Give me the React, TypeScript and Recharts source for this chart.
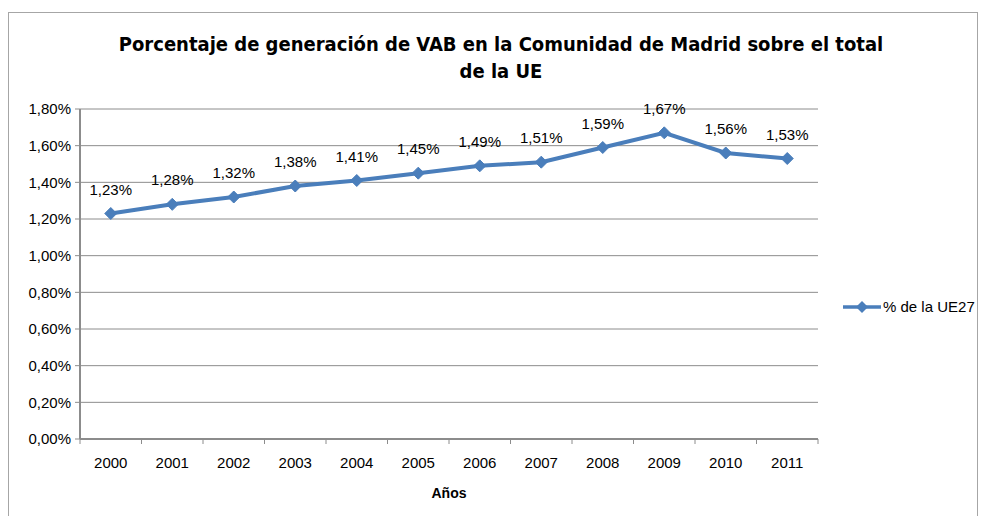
import type { ReactElement } from 'react'
import { LineChart, Line, XAxis, YAxis, CartesianGrid, LabelList } from 'recharts'

const years = ['2000', '2001', '2002', '2003', '2004', '2005', '2006', '2007', '2008', '2009', '2010', '2011']
const shareUE27 = [1.23, 1.28, 1.32, 1.38, 1.41, 1.45, 1.49, 1.51, 1.59, 1.67, 1.56, 1.53]
const yTicks = [0, 0.2, 0.4, 0.6, 0.8, 1.0, 1.2, 1.4, 1.6, 1.8]

const data = years.map((year, i) => ({ idx: i, year, value: shareUE27[i] }))
const yearTicks = years.map((_, i) => i)
const boundaryTicks = [...years.map((_, i) => i - 0.5), years.length - 0.5]

const BLUE = '#4a7ebb'
const GRID = '#8c8c8c'
const FONT = '"Liberation Sans", Arial, sans-serif'

const pct = (v: number) => `${v.toFixed(2).replace('.', ',')}%`

function Diamond(props: { cx?: number; cy?: number }): ReactElement | null {
  const { cx, cy } = props
  if (cx == null || cy == null) return null
  const r = 6
  return <path d={`M${cx},${cy - r}L${cx + r},${cy}L${cx},${cy + r}L${cx - r},${cy}Z`} fill={BLUE} stroke={BLUE} />
}

export default function App(): ReactElement {
  return (
    <div style={{ position: 'fixed', left: 0, top: 0, width: 981, height: 516, background: '#fff', overflow: 'hidden' }}>
      <div
        style={{
          position: 'absolute',
          left: 8,
          top: 12,
          width: 968,
          height: 540,
          border: '1px solid #a6a6a6',
        }}
      />
      <div
        style={{
          position: 'absolute',
          left: 0,
          top: 31,
          width: 1002,
          textAlign: 'center',
          fontFamily: '"Liberation Sans Narrow", "DejaVu Sans Condensed", Arial, sans-serif',
          fontWeight: 'bold',
          fontSize: 20,
          lineHeight: '27px',
          color: '#000',
        }}
      >
        Porcentaje de generación de VAB en la Comunidad de Madrid sobre el total
        <br />
        de la UE
      </div>
      <div
        style={{
          position: 'absolute',
          left: 843,
          top: 298,
          display: 'flex',
          alignItems: 'center',
          fontFamily: FONT,
          fontSize: 15,
          color: '#000',
        }}
      >
        <svg width={38} height={14}>
          <line x1={0} y1={7} x2={38} y2={7} stroke={BLUE} strokeWidth={3.5} />
          <path d="M19,1L25,7L19,13L13,7Z" fill={BLUE} />
        </svg>
        <span style={{ marginLeft: 2 }}>% de la UE27</span>
      </div>
      <LineChart
        width={981}
        height={516}
        data={data}
        margin={{ top: 109, right: 163, bottom: 11, left: 20 }}
        style={{ position: 'absolute', left: 0, top: 0 }}
      >
        <CartesianGrid vertical={false} stroke={GRID} strokeWidth={1} />
        <XAxis
          type="number"
          dataKey="idx"
          domain={[-0.5, years.length - 0.5]}
          ticks={boundaryTicks}
          tickFormatter={() => ''}
          height={6}
          axisLine={{ stroke: GRID, strokeWidth: 2 }}
          tickLine={{ stroke: GRID }}
          tickSize={5}
        />
        <XAxis
          xAxisId="years"
          type="number"
          dataKey="idx"
          domain={[-0.5, years.length - 0.5]}
          ticks={yearTicks}
          tickFormatter={(v) => years[v] ?? ''}
          interval={0}
          height={60}
          axisLine={false}
          tickLine={false}
          tickMargin={6}
          tick={{ fill: '#000', fontSize: 15, fontFamily: FONT }}
          label={{ value: 'Años', position: 'insideBottom', offset: 7, fill: '#000', fontSize: 14, fontWeight: 'bold', fontFamily: FONT }}
        />
        <YAxis
          domain={[0, 1.8]}
          ticks={yTicks}
          width={60}
          axisLine={{ stroke: GRID, strokeWidth: 2 }}
          tickLine={{ stroke: GRID }}
          tickSize={5}
          tickMargin={4}
          tickFormatter={pct}
          tick={{ fill: '#000', fontSize: 15, fontFamily: FONT }}
        />
        <Line
          type="linear"
          dataKey="value"
          stroke={BLUE}
          strokeWidth={4}
          dot={<Diamond />}
          activeDot={false}
          isAnimationActive={false}
        >
          <LabelList dataKey="value" position="top" offset={19} formatter={(v) => pct(Number(v))} fill="#000" fontSize={15} fontFamily={FONT} />
        </Line>
      </LineChart>
    </div>
  )
}
